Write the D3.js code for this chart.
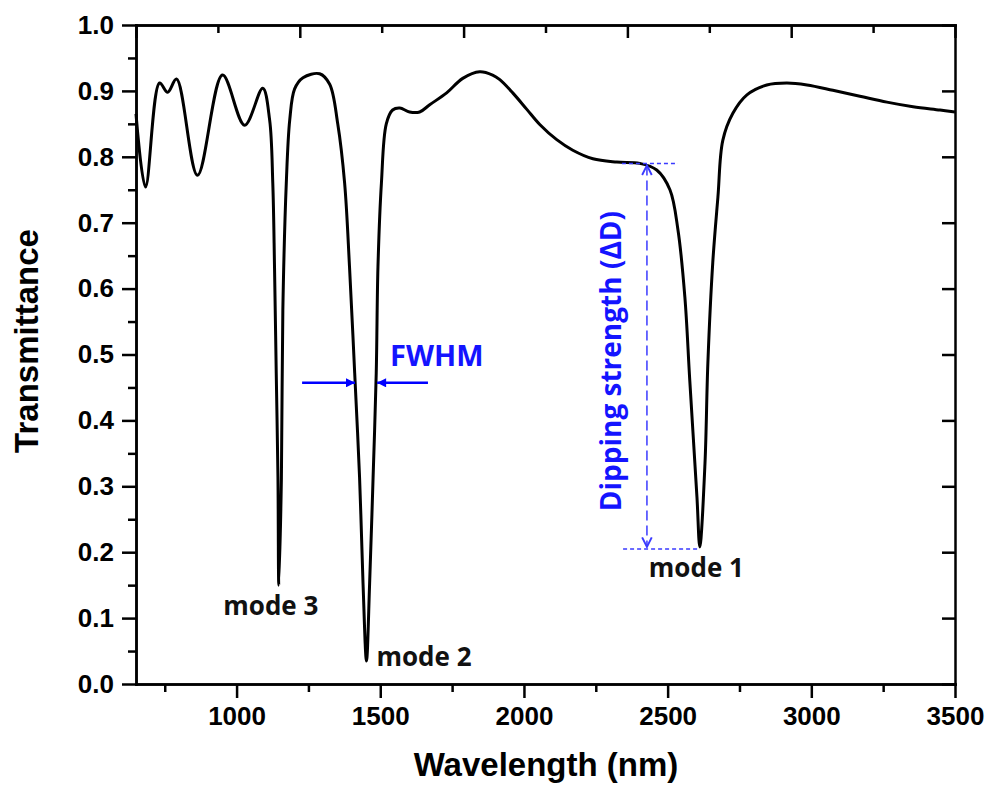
<!DOCTYPE html>
<html>
<head>
<meta charset="utf-8">
<script src="https://cdn.jsdelivr.net/npm/d3@7/dist/d3.min.js"></script>
<style>
  body { margin: 0; background: #fff; }
  .tick text { font-family: "Liberation Sans", Arial, sans-serif; font-weight: bold; font-size: 26px; fill: #000; }
  .axisTitle { font-family: "Liberation Sans", Arial, sans-serif; font-weight: bold; font-size: 33px; fill: #000; }
  .modeText { font-family: "Open Sans", sans-serif; font-weight: 700; font-size: 26px; fill: #111; }
  .blueText { font-family: "Open Sans", sans-serif; font-weight: 700; fill: #1414ff; }
</style>
</head>
<body>
<div id="svg-area"></div>
<script>
// spectrum
var wavelength = [650, 683, 732, 760, 791, 864, 951, 1028, 1091, 1115, 1126, 1132, 1138, 1144, 1147,
  1156, 1161, 1173, 1185, 1202, 1231, 1289, 1324, 1352, 1376, 1393, 1411, 1428, 1440, 1452,
  1463, 1475, 1486, 1492, 1504, 1521, 1543, 1568, 1602, 1637, 1672, 1731, 1787, 1846, 1891,
  1916, 1961, 2010, 2055, 2114, 2170, 2240, 2323, 2403, 2462, 2508, 2536, 2560, 2577, 2602,
  2612, 2630, 2640, 2657, 2675, 2692, 2727, 2776, 2845, 2915, 2985, 3075, 3169, 3263, 3354,
  3448, 3500];
var transmittance = [0.865, 0.754, 0.912, 0.898, 0.918, 0.772, 0.924, 0.848, 0.904, 0.856, 0.760, 0.633, 0.472, 0.313, 0.150,
  0.313, 0.567, 0.760, 0.856, 0.903, 0.920, 0.926, 0.910, 0.850, 0.760, 0.633, 0.472, 0.313, 0.153, 0.035,
  0.153, 0.313, 0.472, 0.633, 0.760, 0.850, 0.871, 0.874, 0.868, 0.868, 0.879, 0.897, 0.919, 0.929, 0.924,
  0.917, 0.897, 0.872, 0.849, 0.826, 0.810, 0.797, 0.792, 0.790, 0.780, 0.750, 0.689, 0.587, 0.461, 0.284,
  0.208, 0.335, 0.487, 0.639, 0.739, 0.825, 0.866, 0.894, 0.909, 0.912, 0.909, 0.901, 0.892, 0.883, 0.876,
  0.871, 0.868];

var xMajorTicks = [1000, 1500, 2000, 2500, 3000, 3500];
var xMinorTicks = [750, 1250, 1750, 2250, 2750, 3250];
var yMajorTicks = [0, 0.1, 0.2, 0.3, 0.4, 0.5, 0.6, 0.7, 0.8, 0.9, 1.0];
var yMinorTicks = [0.05, 0.15, 0.25, 0.35, 0.45, 0.55, 0.65, 0.75, 0.85, 0.95];
var topMajorTicks = [0, 1, 2, 3, 4, 5];
var topMinorTicks = [0.5, 1.5, 2.5, 3.5, 4.5];

var modeNames = ["mode 1", "mode 2", "mode 3"];
var modeWavelength = [2612, 1452, 1147];
var modeDip = [0.208, 0.035, 0.150];

// annotation values
var dipTop = 0.79, dipBottom = 0.205, dipAt = 2428;
var fwhmLevel = 0.457;
var fwhmLeft = [1228, 1412], fwhmRight = [1666, 1489];

var svgWidth = 989, svgHeight = 791;
var svg = d3.select("#svg-area").append("svg")
  .attr("width", svgWidth)
  .attr("height", svgHeight);

var x = d3.scaleLinear().domain([650, 3500]).range([136, 955]);
var y = d3.scaleLinear().domain([0, 1]).range([684, 25]);
var xTop = d3.scaleLinear().domain([0, 5]).range([136, 955]);

function styleAxis(g) {
  g.selectAll("path, line").attr("stroke", "#000").attr("stroke-width", 2.5);
  g.select(".domain").attr("stroke-linecap", "square");
}

// bottom
svg.append("g").attr("transform", "translate(0,684)")
  .call(d3.axisBottom(x).tickValues(xMinorTicks).tickSize(8).tickFormat("").tickSizeOuter(0))
  .call(styleAxis);
svg.append("g").attr("transform", "translate(0,684)")
  .call(d3.axisBottom(x).tickValues(xMajorTicks).tickSize(14).tickPadding(9).tickFormat(d3.format("d")).tickSizeOuter(0))
  .call(styleAxis);

// left
svg.append("g").attr("transform", "translate(136,0)")
  .call(d3.axisLeft(y).tickValues(yMinorTicks).tickSize(8).tickFormat("").tickSizeOuter(0))
  .call(styleAxis);
svg.append("g").attr("transform", "translate(136,0)")
  .call(d3.axisLeft(y).tickValues(yMajorTicks).tickSize(14).tickPadding(8).tickFormat(d3.format(".1f")).tickSizeOuter(0))
  .call(styleAxis);

// top (inward)
svg.append("g").attr("transform", "translate(0,25)")
  .call(d3.axisTop(xTop).tickValues(topMinorTicks).tickSize(-8).tickFormat("").tickSizeOuter(0))
  .call(styleAxis);
svg.append("g").attr("transform", "translate(0,25)")
  .call(d3.axisTop(xTop).tickValues(topMajorTicks).tickSize(-13).tickFormat("").tickSizeOuter(0))
  .call(styleAxis);

// right (inward)
svg.append("g").attr("transform", "translate(955,0)")
  .call(d3.axisRight(y).tickValues(yMajorTicks).tickSize(-13).tickFormat("").tickSizeOuter(0))
  .call(styleAxis);

svg.selectAll(".tick text").attr("fill", "#000");

// titles
svg.append("text").attr("class", "axisTitle")
  .attr("x", 546).attr("y", 776).attr("text-anchor", "middle")
  .text("Wavelength (nm)");
svg.append("text").attr("class", "axisTitle")
  .attr("transform", "translate(38,341) rotate(-90)").attr("text-anchor", "middle")
  .text("Transmittance");

// spectrum
var points = wavelength.map(function(w, i) { return [w, transmittance[i]]; });
svg.append("path")
  .datum(points)
  .attr("fill", "none")
  .attr("stroke", "#000")
  .attr("stroke-width", 3)
  .attr("stroke-linejoin", "round")
  .attr("d", d3.line().x(d => x(d[0])).y(d => y(d[1])).curve(d3.curveCatmullRom.alpha(0.5)));

// mode labels
var modeOffset = [[-51, 30, "start"], [10, 5, "start"], [-8, 30, "middle"]];
svg.selectAll(".modeText")
  .data(modeNames)
  .enter()
  .append("text")
  .attr("class", "modeText")
  .attr("x", (d, i) => x(modeWavelength[i]) + modeOffset[i][0])
  .attr("y", (d, i) => y(modeDip[i]) + modeOffset[i][1])
  .attr("text-anchor", (d, i) => modeOffset[i][2])
  .text(d => d);

// markers
var defs = svg.append("defs");
defs.append("marker").attr("id", "solidHead")
  .attr("viewBox", "0 0 10 10").attr("refX", 10).attr("refY", 5)
  .attr("markerWidth", 11).attr("markerHeight", 9).attr("markerUnits", "userSpaceOnUse")
  .attr("orient", "auto")
  .append("path").attr("d", "M0,0 L10,5 L0,10 Z").attr("fill", "#0000ff");
defs.append("marker").attr("id", "openHead")
  .attr("viewBox", "0 0 10 10").attr("refX", 9).attr("refY", 5)
  .attr("markerWidth", 12).attr("markerHeight", 12).attr("markerUnits", "userSpaceOnUse")
  .attr("orient", "auto-start-reverse")
  .append("path").attr("d", "M1,1 L9,5 L1,9").attr("fill", "none")
  .attr("stroke", "#3a3aff").attr("stroke-width", 1.6);

// FWHM arrows
[fwhmLeft, fwhmRight].forEach(function(pair) {
  svg.append("line")
    .attr("x1", x(pair[0])).attr("x2", x(pair[1]))
    .attr("y1", y(fwhmLevel)).attr("y2", y(fwhmLevel))
    .attr("stroke", "#0000ff").attr("stroke-width", 2.5)
    .attr("marker-end", "url(#solidHead)");
});
svg.append("text").attr("class", "blueText")
  .attr("x", x(1534)).attr("y", y(0.4825))
  .style("font-size", "29px")
  .text("FWHM");

// dipping strength
svg.append("line")
  .attr("x1", x(2341)).attr("x2", x(2536))
  .attr("y1", y(dipTop)).attr("y2", y(dipTop))
  .attr("stroke", "#3a3aff").attr("stroke-width", 1.5).attr("stroke-dasharray", "4,3");
svg.append("line")
  .attr("x1", x(2345)).attr("x2", x(2612))
  .attr("y1", y(dipBottom)).attr("y2", y(dipBottom))
  .attr("stroke", "#3a3aff").attr("stroke-width", 1.5).attr("stroke-dasharray", "4,3");
svg.append("line")
  .attr("x1", x(dipAt)).attr("x2", x(dipAt))
  .attr("y1", y(dipTop) + 2).attr("y2", y(dipBottom) - 2)
  .attr("stroke", "#3a3aff").attr("stroke-width", 1.5).attr("stroke-dasharray", "10,5")
  .attr("marker-start", "url(#openHead)")
  .attr("marker-end", "url(#openHead)");
svg.append("text").attr("class", "blueText")
  .attr("transform", "translate(" + x(2336) + "," + y(0.49) + ") rotate(-90)")
  .attr("text-anchor", "middle")
  .style("font-size", "28px")
  .text("Dipping strength (ΔD)");
</script>
</body>
</html>
